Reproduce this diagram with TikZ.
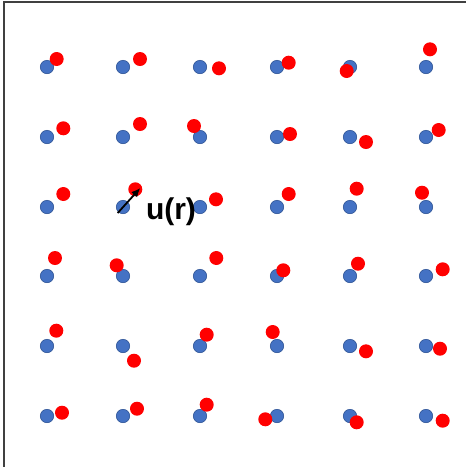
\documentclass[tikz,border=0pt]{standalone}
\usepackage{fontspec}
\setsansfont{Liberation Sans}
\usetikzlibrary{arrows.meta}
\definecolor{sitesblue}{HTML}{4472C4}
\definecolor{sitesedge}{HTML}{2F5597}
\definecolor{atomred}{HTML}{FF0000}
\tikzset{
  site/.style={circle, fill=sitesblue, draw=sitesedge, line width=0.6pt, minimum size=13.4pt, inner sep=0pt},
  atom/.style={circle, fill=atomred, minimum size=14pt, inner sep=0pt},
  frameline/.style={draw=black!75, line width=1.3pt},
  displ/.style={-{Latex[length=9pt,width=8pt]}, line width=1.8pt},
  lbl/.style={font=\sffamily\bfseries\fontsize{30}{32}\selectfont, inner sep=0pt, anchor=base},
}

\begin{document}
\begin{tikzpicture}[x=1pt,y=-1pt]
  \useasboundingbox (0,0) rectangle (466,467);
  \draw[frameline] (4,467) -- (4,2) -- (466,2);
  % undisplaced lattice sites
  \foreach \X [count=\i] in {47,123,200,277,350,426}
    \foreach \Y [count=\j] in {67,137,207,276,346,416}
      \node[site] (s-\j-\i) at (\X,\Y) {};
  % displaced atoms
  \foreach \X/\Y [count=\k] in {
      56.7/59, 140/59, 219/68.3, 288.7/62.7, 346.7/71, 430/49.3,
      63.3/128.3, 140/124, 194/126, 290/134, 366/142, 438.7/130,
      63.3/194, 135.3/189.3, 216/199.3, 288.7/194, 356.7/188.7, 422/192.7,
      55/258, 116.7/265.3, 216.3/258, 283.3/270.3, 358/263.7, 442.7/269.3,
      56.3/330.7, 134/360.7, 206.7/334.7, 272.7/332, 366/351.3, 440/348.7,
      62/412.7, 137/408.7, 206.7/404.7, 265.3/419.3, 356.7/422.3, 442.7/420.7}
    \node[atom] (a-\k) at (\X,\Y) {};
  \coordinate (tail) at (117.7,213);
  \coordinate (tip) at (140.3,188);
  \draw[displ] (tail) -- (tip);
  \node[lbl] (ulab) at (171,219) {u(r)};
\end{tikzpicture}
\end{document}
